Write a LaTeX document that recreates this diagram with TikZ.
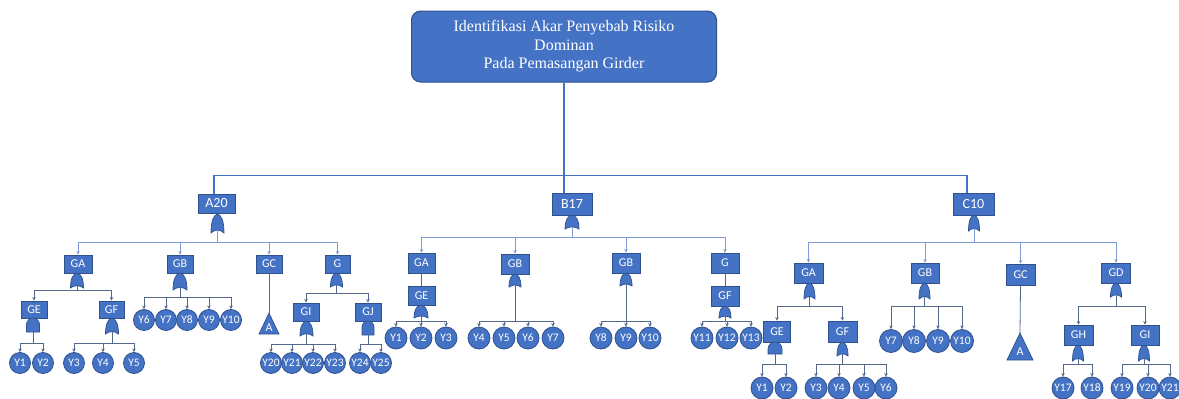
\documentclass[tikz,border=0pt]{standalone}
\usepackage{fontspec}
\usetikzlibrary{arrows.meta}
\newfontfamily\carl{Carlito}
\newfontfamily\tms{Liberation Serif}
\newcommand\titlefont{\tms\fontsize{16}{18.5}\selectfont}
\newcommand\boxfont{\carl\fontsize{12}{13}\selectfont}
\newcommand\topfont{\carl\fontsize{14}{16}\selectfont}
\newcommand\evfont{\carl\fontsize{11.5}{12}\selectfont}
\definecolor{boxblue}{RGB}{68,114,196}
\definecolor{boxedge}{RGB}{47,82,143}
\definecolor{lineA}{RGB}{68,114,196}
\definecolor{lineB}{RGB}{125,155,215}
\definecolor{lineC}{RGB}{84,104,140}
\tikzset{
  ttl/.style={rectangle, rounded corners=9pt, fill=boxblue, draw=boxedge, line width=1pt,
    minimum width=305, minimum height=71, align=center, text=white, font=\titlefont, inner sep=0pt},
  gbox/.style={rectangle, fill=boxblue, draw=boxedge, line width=0.8pt, text=white,
    font=\boxfont, inner sep=0pt},
  ev/.style={circle, fill=boxblue, draw=boxedge, line width=0.8pt, text=white,
    font=\evfont, inner sep=0pt, minimum size=#1},
  ev/.default=21,
  gate/.style={fill=boxblue, draw=boxedge, line width=0.7pt},
  l0/.style={draw=lineA, line width=1.1pt},
  l1/.style={draw=lineB, line width=0.9pt},
  l2/.style={draw=lineC, line width=0.8pt},
  arr/.style={-{Stealth[length=3.5pt,width=3.5pt]}}
}
% OR gate: name, x, top y, width, height
\newcommand\orgate[5]{%
  \path[gate] ({#2-#4/2},{#3+#5}) .. controls ({#2-#4/2},{#3+0.35*#5}) and ({#2-0.3*#4},{#3+0.06*#5}) .. (#2,#3)
    .. controls ({#2+0.3*#4},{#3+0.06*#5}) and ({#2+#4/2},{#3+0.35*#5}) .. ({#2+#4/2},{#3+#5})
    .. controls ({#2+0.2*#4},{#3+0.8*#5}) and ({#2-0.2*#4},{#3+0.8*#5}) .. cycle;
  \coordinate (#1-b) at (#2,{#3+0.85*#5});}
% AND gate: name, x, top y, width, height
\newcommand\andgate[5]{%
  \path[gate] ({#2-#4/2},{#3+#5}) -- ({#2-#4/2},{#3+#4/2})
    .. controls ({#2-#4/2},{#3+0.225*#4}) and ({#2-0.275*#4},#3) .. (#2,#3)
    .. controls ({#2+0.275*#4},#3) and ({#2+#4/2},{#3+0.225*#4}) .. ({#2+#4/2},{#3+#4/2})
    -- ({#2+#4/2},{#3+#5}) -- cycle;
  \coordinate (#1-b) at (#2,{#3+#5});}
% transfer triangle: name, apex x, apex y, width, height
\newcommand\transfer[5]{%
  \path[gate] (#2,#3) -- ({#2+#4/2},{#3+#5}) -- ({#2-#4/2},{#3+#5}) -- cycle;
  \coordinate (#1) at (#2,#3);
  \node[text=white, font=\boxfont, inner sep=0pt] (#1-lbl) at (#2,{#3+0.68*#5}) {A};}
% children connectors: gate, bar y, style, list of children
\newcommand\kids[4]{%
  \foreach \c in {#4} {\draw[#3,arr] (#1-b) -- (#1-b |- 0,#2) -| (\c.north);}}
\begin{document}
\begin{tikzpicture}[x=1pt,y=-1pt]
\useasboundingbox (0,0) rectangle (1179,399);

% ---------- title and top level ----------
\node[ttl] (title) at (564,46.5) {Identifikasi Akar Penyebab Risiko\\Dominan\\Pada Pemasangan Girder};
\node[gbox, minimum width=37, minimum height=19, font=\topfont] (a20) at (216.5,203.5) {A20};
\node[gbox, minimum width=40, minimum height=22, font=\topfont] (b17) at (572,204) {B17};
\node[gbox, minimum width=41, minimum height=22, font=\topfont] (c10) at (973.5,204) {C10};
\draw[l0] (title.south) -- (title.south |- b17.north);
\draw[l0] ([xshift=-2.5pt]a20.north) -- ++(0,-18) -| ([xshift=-6.5pt]c10.north);

% ---------- A20 branch ----------
\orgate{ga20}{217.5}{214}{13}{19}
\node[gbox, minimum width=28, minimum height=18] (a_ga) at (78,264) {GA};
\node[gbox, minimum width=26, minimum height=18] (a_gb) at (180,264) {GB};
\node[gbox, minimum width=26, minimum height=18] (a_gc) at (269,264) {GC};
\node[gbox, minimum width=25, minimum height=18] (a_g) at (337.5,264) {G};
\kids{ga20}{242}{l1}{a_ga,a_gb,a_gc,a_g}

\orgate{gaga}{77}{273}{13}{15}
\node[gbox, minimum width=26, minimum height=17] (a_ge) at (34,309.5) {GE};
\node[gbox, minimum width=25, minimum height=17] (a_gf) at (111.5,309.5) {GF};
\kids{gaga}{290}{l2}{a_ge,a_gf}

\andgate{gage}{33}{318}{13}{14}
\node[ev] (aY1) at (20,363) {Y1};
\node[ev] (aY2) at (43,363) {Y2};
\kids{gage}{343}{l2}{aY1,aY2}

\orgate{gagf}{112}{318}{13}{16}
\node[ev] (aY3) at (74,363) {Y3};
\node[ev] (aY4) at (103,363) {Y4};
\node[ev] (aY5) at (134,363) {Y5};
\kids{gagf}{343}{l2}{aY3,aY4,aY5}

\orgate{gagb}{180}{273}{14}{17}
\node[ev] (aY6) at (144,320) {Y6};
\node[ev] (aY7) at (166,320) {Y7};
\node[ev] (aY8) at (187,320) {Y8};
\node[ev] (aY9) at (209,320) {Y9};
\node[ev] (aY10) at (231,320) {Y10};
\kids{gagb}{297}{l2}{aY6,aY7,aY8,aY9,aY10}

\draw[l2] (a_gc.south) -- (269,313);
\transfer{atri}{269}{313}{20}{21}

\orgate{gag}{336.5}{273}{12}{14}
\node[gbox, minimum width=26, minimum height=18] (a_gi) at (306,312) {GI};
\node[gbox, minimum width=26, minimum height=18] (a_gj) at (368,312) {GJ};
\kids{gag}{293}{l2}{a_gi,a_gj}

\orgate{gagi}{306.5}{321}{13}{15}
\node[ev] (aY20) at (271,363) {Y20};
\node[ev] (aY21) at (292,363) {Y21};
\node[ev] (aY22) at (313,363) {Y22};
\node[ev] (aY23) at (335,363) {Y23};
\kids{gagi}{344}{l2}{aY20,aY21,aY22,aY23}

\andgate{gagj}{368}{321}{12}{14}
\node[ev] (aY24) at (360,363) {Y24};
\node[ev] (aY25) at (381,363) {Y25};
\kids{gagj}{344}{l2}{aY24,aY25}

% ---------- B17 branch ----------
\orgate{gb17}{572}{215}{14}{14}
\node[gbox, minimum width=27, minimum height=20] (b_ga) at (421.5,263) {GA};
\node[gbox, minimum width=28, minimum height=20] (b_gb1) at (515,264) {GB};
\node[gbox, minimum width=28, minimum height=20] (b_gb2) at (626,263) {GB};
\node[gbox, minimum width=28, minimum height=20] (b_g) at (725,263) {G};
\kids{gb17}{237}{l1}{b_ga,b_gb1,b_gb2,b_g}

\node[gbox, minimum width=27, minimum height=19] (b_ge) at (421.5,295.5) {GE};
\draw[l2] (b_ga) -- (b_ge);
\orgate{gbge}{421}{305}{14}{13}
\node[ev=22] (bY1) at (396,338) {Y1};
\node[ev=22] (bY2) at (421,338) {Y2};
\node[ev=22] (bY3) at (446,338) {Y3};
\kids{gbge}{321}{l2}{bY1,bY2,bY3}

\orgate{gbgb1}{515}{274}{12}{13}
\node[ev=22] (bY4) at (479,338) {Y4};
\node[ev=22] (bY5) at (504,338) {Y5};
\node[ev=22] (bY6) at (528,338) {Y6};
\node[ev=22] (bY7) at (553,338) {Y7};
\kids{gbgb1}{321}{l2}{bY4,bY5,bY6,bY7}

\orgate{gbgb2}{626}{273}{12}{13}
\node[ev=22] (bY8) at (601,338) {Y8};
\node[ev=22] (bY9) at (626,338) {Y9};
\node[ev=22] (bY10) at (650,338) {Y10};
\kids{gbgb2}{321}{l2}{bY8,bY9,bY10}

\node[gbox, minimum width=28, minimum height=20] (b_gf) at (725,296) {GF};
\draw[l2] (b_g) -- (b_gf);
\orgate{gbgf}{725}{306}{12}{12}
\node[ev=22] (bY11) at (702,338) {Y11};
\node[ev=22] (bY12) at (727,338) {Y12};
\node[ev=22] (bY13) at (751,338) {Y13};
\kids{gbgf}{321}{l2}{bY11,bY12,bY13}

% ---------- C10 branch ----------
\orgate{gc10}{974}{215}{11}{16}
\node[gbox, minimum width=29, minimum height=20] (c_ga) at (808.5,273) {GA};
\node[gbox, minimum width=28, minimum height=20] (c_gb) at (925,273) {GB};
\node[gbox, minimum width=29, minimum height=21] (c_gc) at (1020.5,274.5) {GC};
\node[gbox, minimum width=29, minimum height=20] (c_gd) at (1116,273) {GD};
\kids{gc10}{242}{l1}{c_ga,c_gb,c_gc,c_gd}

\orgate{gcga}{809.5}{283}{11}{16}
\node[gbox, minimum width=27, minimum height=21] (c_ge) at (777,331.5) {GE};
\node[gbox, minimum width=29, minimum height=21] (c_gf) at (842.5,331.5) {GF};
\kids{gcga}{306}{l2}{c_ge,c_gf}

\andgate{gcge}{775}{342}{14}{12}
\node[ev=22] (cY1) at (762,388) {Y1};
\node[ev=22] (cY2) at (786,388) {Y2};
\kids{gcge}{364}{l2}{cY1,cY2}

\orgate{gcgf}{842.5}{342}{11}{14}
\node[ev=22] (cY3) at (816,388) {Y3};
\node[ev=22] (cY4) at (839,388) {Y4};
\node[ev=22] (cY5) at (864,388) {Y5};
\node[ev=22] (cY6) at (886,388) {Y6};
\kids{gcgf}{364}{l2}{cY3,cY4,cY5,cY6}

\orgate{gcgb}{924.5}{283}{11}{16}
\node[ev=23] (cY7) at (891,341) {Y7};
\node[ev=23] (cY8) at (914,341) {Y8};
\node[ev=23] (cY9) at (938,341) {Y9};
\node[ev=23] (cY10) at (962,341) {Y10};
\kids{gcgb}{306}{l2}{cY7,cY8,cY9,cY10}

\draw[l2] (c_gc.south) -- (1020,333);
\transfer{ctri}{1020}{333}{26}{27}

\orgate{gcgd}{1116}{283}{11}{14}
\node[gbox, minimum width=29, minimum height=20] (c_gh) at (1078.5,335) {GH};
\node[gbox, minimum width=28, minimum height=20] (c_gi) at (1145,335) {GI};
\kids{gcgd}{306}{l2}{c_gh,c_gi}

\orgate{gcgh}{1078}{345}{11}{16}
\node[ev=22] (cY17) at (1063,388) {Y17};
\node[ev=22] (cY18) at (1092,388) {Y18};
\kids{gcgh}{364}{l2}{cY17,cY18}

\orgate{gcgi}{1144}{345}{11}{16}
\node[ev=22] (cY19) at (1122,388) {Y19};
\node[ev=22] (cY20) at (1148,388) {Y20};
\node[ev=22] (cY21) at (1170,388) {Y21};
\kids{gcgi}{364}{l2}{cY19,cY20,cY21}

\end{tikzpicture}
\end{document}
